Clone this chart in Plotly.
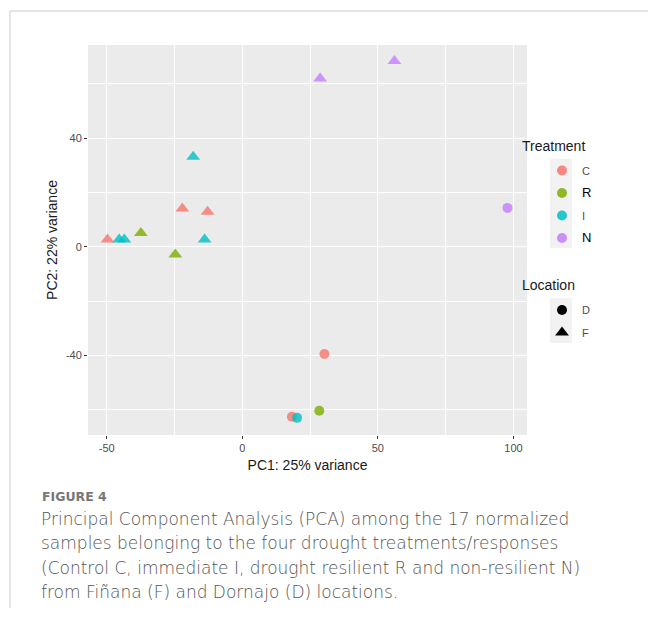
import plotly.graph_objects as go

# ---- data ----
pc1 = [28.7, 56.1, 97.8, -18.1, -22.1, -12.8, -37.4, -49.7, -45.4, -43.5, -13.9, -24.7,
       30.3, 28.4, 18.3, 20.2]
pc2 = [61.9, 68.3, 14.3, 33.1, 14.1, 12.9, 5.1, 2.7, 2.7, 2.7, 2.7, -2.8,
       -39.4, -60.3, -62.5, -62.9]
treatment = ["N", "N", "N", "I", "C", "C", "R", "C", "I", "I", "I", "R",
             "C", "R", "C", "I"]
location = ["F", "F", "D", "F", "F", "F", "F", "F", "F", "F", "F", "F",
            "D", "D", "D", "D"]

treat_levels = ["C", "R", "I", "N"]
treat_colors = {"C": "#F8766D", "R": "#7CAE00", "I": "#00BFC4", "N": "#C77CFF"}
loc_levels = ["D", "F"]
loc_symbols = {"D": "circle", "F": "triangle-up"}
loc_sizes = {"D": 10, "F": 12}

x_ticks = [-50, 0, 50, 100]
y_ticks = [-40, 0, 40]

x_title = "PC1: 25% variance"
y_title = "PC2: 22% variance"
treat_title = "Treatment"
loc_title = "Location"
fig_label = "FIGURE 4"
caption_lines = [
    "Principal Component Analysis (PCA) among the 17 normalized",
    "samples belonging to the four drought treatments/responses",
    "(Control C, immediate I, drought resilient R and non-resilient N)",
    "from Fiñana (F) and Dornajo (D) locations.",
]

fig = go.Figure()

# data points
for t in treat_levels:
    for l in loc_levels:
        idx = [i for i in range(len(pc1)) if treatment[i] == t and location[i] == l]
        if not idx:
            continue
        fig.add_trace(go.Scatter(
            x=[pc1[i] for i in idx], y=[pc2[i] for i in idx], mode="markers",
            marker=dict(color=treat_colors[t], symbol=loc_symbols[l], size=loc_sizes[l],
                        opacity=0.8, line=dict(width=0)),
            showlegend=False, hoverinfo="x+y"))

# legend entries: Treatment
label_style = {"C": ("#4d4d4d", 11), "R": ("#000000", 13), "I": ("#4d4d4d", 11), "N": ("#000000", 13)}
for t in treat_levels:
    col, fs = label_style[t]
    fig.add_trace(go.Scatter(
        x=[None], y=[None], mode="markers", name=f'<span style="color:{col};font-size:{fs}px">{t}</span>',
        marker=dict(color=treat_colors[t], symbol="circle", size=10, opacity=0.85),
        legend="legend", legendgroup="t" + t, showlegend=True))
# legend entries: Location
for l in loc_levels:
    fig.add_trace(go.Scatter(
        x=[None], y=[None], mode="markers", name=l,
        marker=dict(color="black", symbol=loc_symbols[l], size=loc_sizes[l]),
        legend="legend2", legendgroup="l" + l, showlegend=True))

L, R, T, B = 88, 121, 45, 187
W, H = 648, 622
pw, ph = W - L - R, H - T - B


def px_x(px):
    return (px - L) / pw


def px_y(py):
    return (H - B - py) / ph


font_main = "Liberation Sans, Arial, sans-serif"
legend_common = dict(
    xanchor="left", yanchor="top", bgcolor="rgba(0,0,0,0)",
    font=dict(family=font_main, size=11, color="#4d4d4d"),
    tracegroupgap=3.5, traceorder="grouped", indentation=24,
    itemclick=False, itemdoubleclick=False,
)

shapes = [
    # page frame (top and left rules)
    dict(type="line", xref="paper", yref="paper", x0=px_x(10), x1=px_x(648), y0=px_y(11), y1=px_y(11),
         line=dict(color="#cccccc", width=1)),
    dict(type="line", xref="paper", yref="paper", x0=px_x(10), x1=px_x(10), y0=px_y(11), y1=px_y(608),
         line=dict(color="#cccccc", width=1)),
    # legend key backgrounds
    dict(type="rect", xref="paper", yref="paper", x0=px_x(550), x1=px_x(572), y0=px_y(159), y1=px_y(248),
         fillcolor="#F2F2F2", line=dict(width=0), layer="above"),
    dict(type="rect", xref="paper", yref="paper", x0=px_x(550), x1=px_x(572), y0=px_y(298), y1=px_y(343),
         fillcolor="#F2F2F2", line=dict(width=0), layer="above"),
]

cap_font = "DejaVu Sans, Open Sans, sans-serif"
annotations = [
    dict(text=treat_title, xref="paper", yref="paper", x=px_x(520), y=px_y(146), xanchor="left",
         yanchor="middle", showarrow=False, font=dict(family=font_main, size=14, color="#1a1a1a")),
    dict(text=loc_title, xref="paper", yref="paper", x=px_x(520), y=px_y(285), xanchor="left",
         yanchor="middle", showarrow=False, font=dict(family=font_main, size=14, color="#1a1a1a")),
    dict(text=fig_label, xref="paper", yref="paper", x=px_x(40), y=px_y(497), xanchor="left",
         yanchor="middle", showarrow=False,
         font=dict(family=cap_font, size=12.5, color="#777777", weight=600)),
]
for k, line in enumerate(caption_lines):
    annotations.append(dict(
        text=line, xref="paper", yref="paper", x=px_x(39), y=px_y(519 + 24.4 * k), xanchor="left",
        yanchor="middle", showarrow=False,
        font=dict(family=cap_font, size=17, color="#555555", weight=200)))

fig.update_layout(
    width=W, height=H, margin=dict(l=L, r=R, t=T, b=B, pad=0),
    paper_bgcolor="white", plot_bgcolor="#EBEBEB",
    font=dict(family=font_main),
    showlegend=True,
    legend=dict(x=px_x(518), y=px_y(156), **legend_common),
    legend2=dict(x=px_x(518), y=px_y(295.5), **legend_common),
    shapes=shapes, annotations=annotations,
    xaxis=dict(range=[-56.9, 105.0], tickvals=x_ticks, ticktext=[str(v) for v in x_ticks],
               showgrid=True, gridcolor="white", gridwidth=1.1, zeroline=False,
               ticks="outside", ticklen=3, tickwidth=1.1, tickcolor="#333333",
               tickfont=dict(size=11, color="#4d4d4d", family=font_main),
               minor=dict(tickvals=[-25, 25, 75], showgrid=True, gridcolor="white", gridwidth=0.5, ticks=""),
               title=dict(text=x_title, font=dict(size=14, color="#1a1a1a", family=font_main), standoff=6),
               showline=False, fixedrange=True),
    yaxis=dict(range=[-69.2, 74.2], tickvals=y_ticks, ticktext=[str(v) for v in y_ticks],
               showgrid=True, gridcolor="white", gridwidth=1.1, zeroline=False,
               ticks="outside", ticklen=3, tickwidth=1.1, tickcolor="#333333",
               tickfont=dict(size=11, color="#4d4d4d", family=font_main),
               minor=dict(tickvals=[-60, -20, 20, 60], showgrid=True, gridcolor="white", gridwidth=0.5, ticks=""),
               title=dict(text=y_title, font=dict(size=14, color="#1a1a1a", family=font_main), standoff=4),
               showline=False, fixedrange=True),
)

fig.write_html("out.html", config={"displayModeBar": False},
               post_script="document.body.style.margin='0';")
